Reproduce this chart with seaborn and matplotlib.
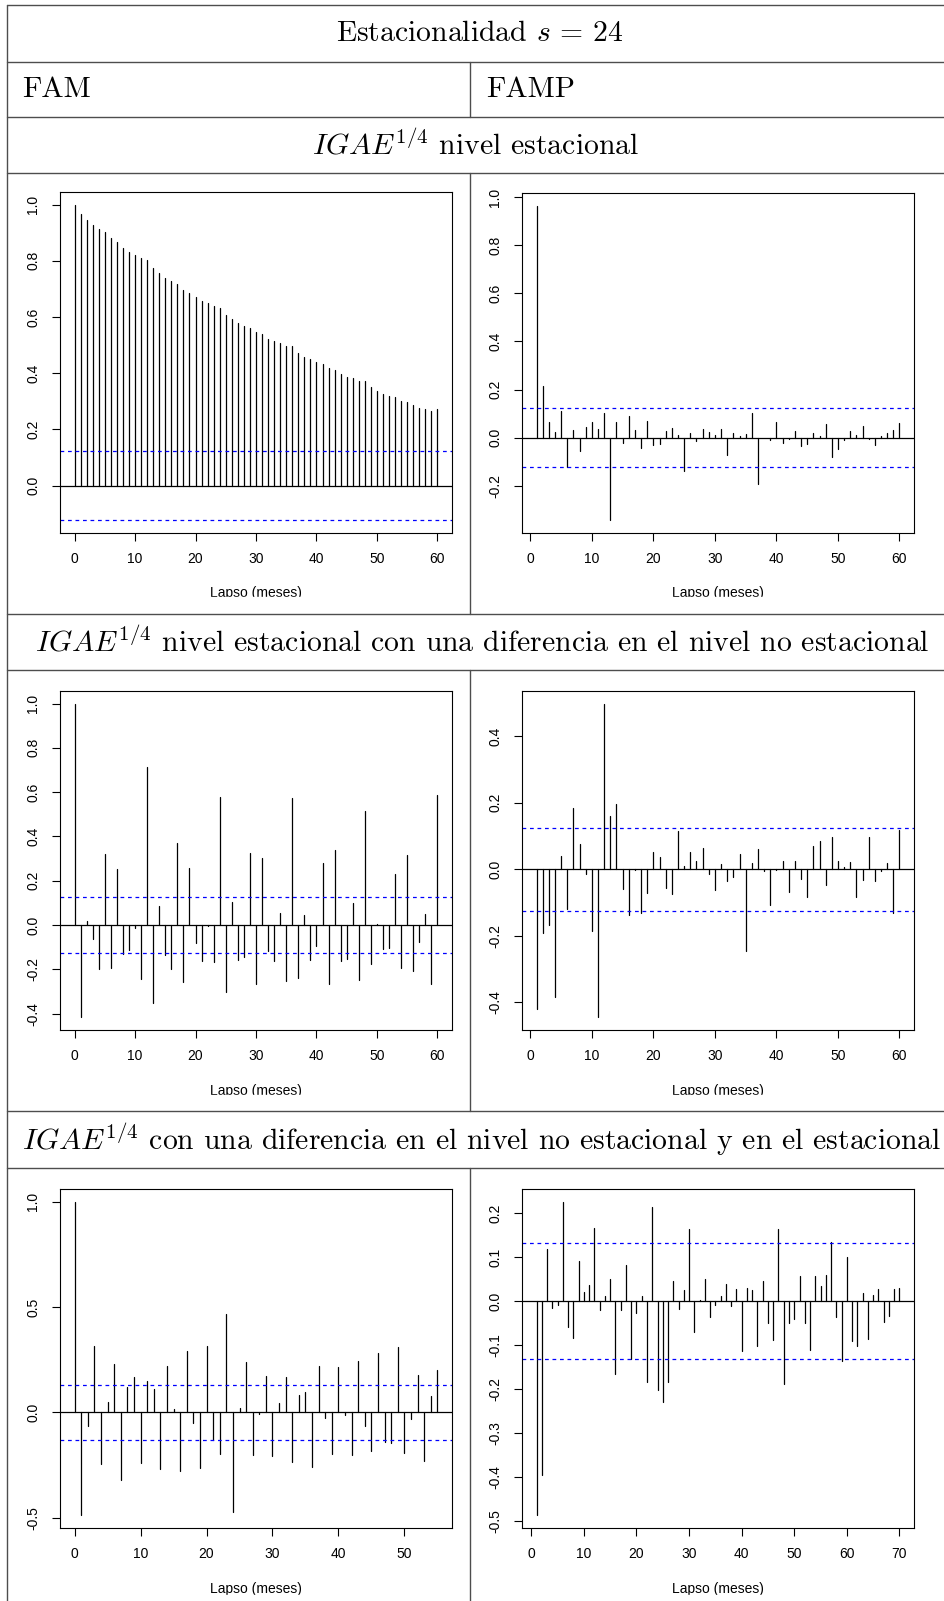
import numpy as np
import pandas as pd
import matplotlib
matplotlib.use("Agg")
import matplotlib.pyplot as plt
from matplotlib.lines import Line2D
from matplotlib.patches import Rectangle
import seaborn as sns

W, H = 944, 1601

# --- valores ---
lags_acf60 = np.arange(0, 61)
lags_pacf60 = np.arange(1, 61)
lags_acf55 = np.arange(0, 56)
lags_pacf70 = np.arange(1, 71)

acf_nivel = np.array([
    1.0, 0.965, 0.946, 0.928, 0.912, 0.901, 0.882, 0.866, 0.846, 0.832,
    0.821, 0.810, 0.804, 0.774, 0.758, 0.739, 0.727, 0.717, 0.697, 0.687,
    0.671, 0.657, 0.650, 0.638, 0.632, 0.607, 0.594, 0.579, 0.567, 0.561,
    0.545, 0.538, 0.523, 0.513, 0.506, 0.496, 0.495, 0.471, 0.459, 0.449,
    0.439, 0.434, 0.418, 0.413, 0.397, 0.387, 0.383, 0.372, 0.371, 0.351,
    0.338, 0.327, 0.320, 0.315, 0.302, 0.297, 0.285, 0.277, 0.273, 0.267,
    0.271])
pacf_nivel = np.array([
    0.965, 0.216, 0.065, 0.025, 0.112, -0.123, 0.033, -0.054, 0.043, 0.065,
    0.036, 0.101, -0.344, 0.065, -0.024, 0.089, 0.032, -0.044, 0.069, -0.032,
    -0.028, 0.026, 0.042, 0.012, -0.139, 0.019, -0.012, 0.036, 0.024, 0.011,
    0.037, -0.071, 0.021, 0.008, 0.015, 0.104, -0.191, -0.003, -0.010, 0.067,
    -0.021, -0.006, 0.028, -0.036, -0.025, 0.021, 0.008, 0.057, -0.080, -0.046,
    -0.010, 0.026, 0.010, 0.049, -0.007, -0.029, 0.007, 0.019, 0.031, 0.060])
acf_dif = np.array([
    1.0, -0.417, 0.020, -0.065, -0.200, 0.321, -0.194, 0.254, -0.132, -0.111,
    -0.014, -0.243, 0.712, -0.351, 0.087, -0.135, -0.198, 0.371, -0.257, 0.258,
    -0.081, -0.164, -0.006, -0.167, 0.578, -0.300, 0.105, -0.158, -0.144, 0.326,
    -0.267, 0.305, -0.119, -0.164, 0.054, -0.252, 0.575, -0.240, 0.044, -0.158,
    -0.093, 0.281, -0.266, 0.338, -0.162, -0.155, 0.099, -0.249, 0.514, -0.177,
    0.006, -0.110, -0.104, 0.231, -0.194, 0.318, -0.206, -0.078, 0.051, -0.267,
    0.589])
pacf_dif = np.array([
    -0.419, -0.190, -0.168, -0.383, 0.041, -0.120, 0.184, 0.076, -0.015, -0.186,
    -0.445, 0.498, 0.159, 0.196, -0.058, -0.137, -0.002, -0.131, -0.071, 0.052,
    0.037, -0.055, -0.075, 0.116, 0.010, 0.052, 0.025, 0.064, -0.013, -0.061,
    0.015, -0.036, -0.023, 0.047, -0.246, 0.020, 0.061, -0.006, -0.107, -0.003,
    0.025, -0.067, 0.025, -0.028, -0.084, 0.070, 0.086, -0.047, 0.097, 0.024,
    0.007, 0.021, -0.082, -0.032, 0.097, -0.035, -0.005, 0.018, -0.131, 0.119])
acf_dif2 = np.array([
    1.0, -0.489, -0.066, 0.314, -0.246, 0.049, 0.230, -0.320, 0.120, 0.167,
    -0.240, 0.147, 0.112, -0.268, 0.219, 0.016, -0.278, 0.293, -0.049, -0.262,
    0.315, -0.131, -0.197, 0.465, -0.473, 0.022, 0.237, -0.202, -0.006, 0.172,
    -0.205, 0.046, 0.169, -0.237, 0.084, 0.098, -0.259, 0.222, -0.025, -0.199,
    0.215, -0.013, -0.203, 0.243, -0.066, -0.185, 0.281, -0.140, -0.147, 0.309,
    -0.192, -0.032, 0.177, -0.229, 0.076, 0.199])
pacf_dif2 = np.array([
    -0.487, -0.395, 0.119, -0.015, -0.010, 0.226, -0.060, -0.085, 0.091, 0.021,
    0.037, 0.166, -0.020, 0.011, 0.051, -0.165, -0.020, 0.083, -0.132, -0.028,
    0.012, -0.184, 0.214, -0.201, -0.229, -0.185, 0.045, -0.017, 0.025, 0.164,
    -0.070, 0.003, 0.050, -0.036, -0.009, 0.011, 0.039, -0.011, 0.027, -0.114,
    0.030, 0.025, -0.101, 0.045, -0.050, -0.088, 0.164, -0.188, -0.050, -0.041,
    0.057, -0.050, -0.112, 0.057, 0.034, 0.060, 0.135, -0.036, -0.137, 0.100,
    -0.091, -0.102, 0.018, -0.086, 0.013, 0.028, -0.047, -0.035, 0.027, 0.029])

# bandas de confianza (lineas azules)
ci_nivel = 0.124
ci_dif = 0.125
ci_dif2 = 0.131

yticks_acf_nivel = [0.0, 0.2, 0.4, 0.6, 0.8, 1.0]
yticks_pacf_nivel = [-0.2, 0.0, 0.2, 0.4, 0.6, 0.8, 1.0]
yticks_acf_dif = [-0.4, -0.2, 0.0, 0.2, 0.4, 0.6, 0.8, 1.0]
yticks_pacf_dif = [-0.4, -0.2, 0.0, 0.2, 0.4]
yticks_acf_dif2 = [-0.5, 0.0, 0.5, 1.0]
yticks_pacf_dif2 = [-0.5, -0.4, -0.3, -0.2, -0.1, 0.0, 0.1, 0.2]
xticks_60 = [0, 10, 20, 30, 40, 50, 60]
xticks_50 = [0, 10, 20, 30, 40, 50]
xticks_70 = [0, 10, 20, 30, 40, 50, 60, 70]

titulo = r"Estacionalidad $s\,=\,24$"
col_izq = "FAM"
col_der = "FAMP"
filas = [
    "$IGAE^{1/4}$ nivel estacional",
    "$IGAE^{1/4}$ nivel estacional con una diferencia en el nivel no estacional",
    "$IGAE^{1/4}$ con una diferencia en el nivel no estacional y en el estacional",
]
xlabel = "Lapso (meses)"

# --- estilo ---
sns.set_style("white")
plt.rcParams["font.family"] = ["Liberation Sans", "DejaVu Sans"]
plt.rcParams["mathtext.fontset"] = "cm"
plt.rcParams["axes.unicode_minus"] = False

fig = plt.figure(figsize=(W / 100, H / 100), dpi=100)


def px_axes(x0, y0, x1, y1):
    return fig.add_axes([x0 / W, 1 - y1 / H, (x1 - x0) / W, (y1 - y0) / H])


def stem_panel(ax, lags, vals, ci, yticks, xticks, label_top):
    # cada lag es un segmento vertical desde 0 hasta su valor
    df = pd.DataFrame({
        "lag": np.repeat(lags, 2),
        "valor": np.column_stack([np.zeros(len(vals)), vals]).ravel(),
    })
    sns.lineplot(data=df, x="lag", y="valor", units="lag", estimator=None,
                 sort=False, color="black", lw=0.9, ax=ax)
    ax.axhline(0, color="black", lw=0.9)
    for c in (ci, -ci):
        ax.axhline(c, color="blue", lw=0.9, ls=(0, (3, 3)))

    # limites como en R: rango de los datos y las bandas, mas 4%
    lo, hi = min(vals.min(), -ci), max(vals.max(), ci)
    pad = 0.04 * (hi - lo)
    ax.set_ylim(lo - pad, hi + pad)
    xpad = 0.04 * (lags.max() - lags.min())
    ax.set_xlim(lags.min() - xpad, lags.max() + xpad)

    ax.set_yticks(yticks)
    ax.set_yticklabels([f"{t:.1f}" for t in yticks])
    ax.set_xticks(xticks)
    ax.set_xticklabels([str(t) for t in xticks])
    ax.tick_params(bottom=True, left=True, direction="out", length=5.8,
                   width=0.8, color="black", labelsize=10, labelcolor="black")
    ax.tick_params(axis="x", pad=8)
    ax.tick_params(axis="y", labelrotation=90, pad=8.5)
    for lab in ax.get_yticklabels():
        lab.set_va("center")
    for sp in ax.spines.values():
        sp.set_visible(True)
        sp.set_color("black")
        sp.set_linewidth(0.8)

    ax.set_ylabel("")
    ax.set_xlabel(xlabel, fontsize=10, color="black")
    bb = ax.get_position()
    ax.xaxis.set_label_coords(0.5, -(label_top - (1 - bb.y0) * H) / (bb.height * H))


panels = [
    ((60, 192, 452, 533), lags_acf60, acf_nivel, ci_nivel, yticks_acf_nivel, xticks_60, 586),
    ((522, 193, 914, 533), lags_pacf60, pacf_nivel, ci_nivel, yticks_pacf_nivel, xticks_60, 586),
    ((60, 691, 452, 1030), lags_acf60, acf_dif, ci_dif, yticks_acf_dif, xticks_60, 1084),
    ((522, 691, 914, 1030), lags_pacf60, pacf_dif, ci_dif, yticks_pacf_dif, xticks_60, 1084),
    ((60, 1189, 452, 1528), lags_acf55, acf_dif2, ci_dif2, yticks_acf_dif2, xticks_50, 1582),
    ((522, 1189, 914, 1528), lags_pacf70, pacf_dif2, ci_dif2, yticks_pacf_dif2, xticks_70, 1582),
]
for box, lags, vals, ci, yt, xt, ltop in panels:
    ax = px_axes(*box)
    stem_panel(ax, lags, vals, ci, yt, xt, ltop)

# bandas blancas que recortan la etiqueta del eje x (las imagenes originales vienen recortadas)
for y0, y1 in [(597, 613), (1095, 1110), (1595, 1601)]:
    fig.add_artist(Rectangle((0, 1 - y1 / H), 1, (y1 - y0) / H,
                             transform=fig.transFigure, color="white", zorder=5))

# --- tabla ---
line_kw = dict(color="#4d4d4d", lw=1.0, zorder=10, transform=fig.transFigure)
for y in [5, 62, 117, 173, 614, 670, 1111, 1168]:
    fig.add_artist(Line2D([7 / W, 1], [1 - y / H, 1 - y / H], **line_kw))
fig.add_artist(Line2D([7 / W, 7 / W], [1 - 5 / H, 0], **line_kw))
for y0, y1 in [(62, 117), (173, 614), (670, 1111), (1168, 1601)]:
    fig.add_artist(Line2D([470 / W, 470 / W], [1 - y0 / H, 1 - y1 / H], **line_kw))

txt_kw = dict(family="cmr10", fontsize=21.4, color="black", zorder=11)
fig.text(480 / W, 1 - 34 / H, titulo, ha="center", va="center", **txt_kw)
fig.text(22 / W, 1 - 90 / H, col_izq, ha="left", va="center", **txt_kw)
fig.text(486 / W, 1 - 90 / H, col_der, ha="left", va="center", **txt_kw)
for xc, yc, texto in zip([476, 482, 482], [145, 642, 1139], filas):
    fig.text(xc / W, 1 - yc / H, texto, ha="center", va="center", **txt_kw)

fig.savefig("out.png", dpi=100, facecolor="white")
